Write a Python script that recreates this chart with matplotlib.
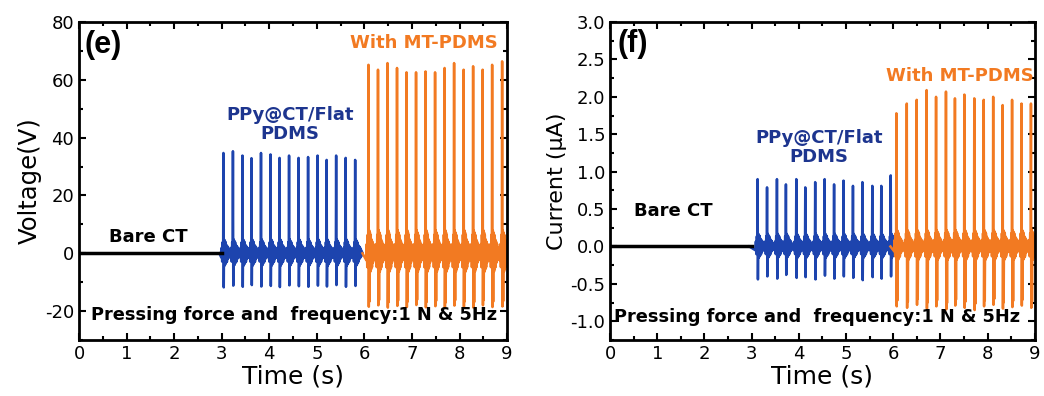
import matplotlib
matplotlib.use("Agg")
import matplotlib.pyplot as plt
from matplotlib.ticker import MultipleLocator

plt.rcParams["axes.unicode_minus"] = False

## tiempos (s), picos y valles de cada pulso, leidos de la figura
## panel (e) voltaje
t_blue_e = [3.03, 3.23, 3.43, 3.62, 3.82, 4.02, 4.21, 4.41, 4.61, 4.81, 5.01, 5.20, 5.40, 5.60, 5.80]
peak_blue_e = [34.7, 35.3, 33.8, 32.9, 34.7, 34.2, 33.0, 33.8, 33.0, 33.3, 33.8, 32.3, 33.8, 33.0, 32.3]
low_blue_e = [-11.8, -11.2, -11.6, -11.0, -11.5, -11.3, -11.7, -11.1, -11.4, -11.6, -11.2, -11.5, -11.0, -11.6, -11.3]
t_orange_e = [6.08, 6.28, 6.48, 6.68, 6.88, 7.08, 7.28, 7.48, 7.68, 7.88, 8.08, 8.28, 8.48, 8.68, 8.89]
peak_orange_e = [65.2, 63.5, 65.8, 64.1, 62.6, 62.6, 62.9, 62.6, 64.1, 65.8, 63.5, 64.7, 63.5, 65.2, 66.4]
low_orange_e = [-18.5, -18.0, -18.8, -18.2, -18.6, -17.9, -18.7, -18.3, -18.9, -18.1, -18.5, -18.8, -18.0, -18.6, -18.4]
ring_blue_e = 4.8
ring_orange_e = 8.0

## panel (f) corriente
t_blue_f = [3.12, 3.32, 3.53, 3.72, 3.94, 4.13, 4.34, 4.54, 4.74, 4.94, 5.14, 5.34, 5.55, 5.74, 5.94]
peak_blue_f = [0.90, 0.79, 0.90, 0.83, 0.90, 0.79, 0.86, 0.90, 0.83, 0.88, 0.81, 0.86, 0.81, 0.81, 0.95]
low_blue_f = [-0.44, -0.40, -0.43, -0.38, -0.42, -0.41, -0.44, -0.39, -0.43, -0.40, -0.42, -0.45, -0.41, -0.43, -0.40]
t_orange_f = [6.06, 6.28, 6.49, 6.70, 6.90, 7.11, 7.30, 7.50, 7.71, 7.91, 8.11, 8.31, 8.51, 8.71, 8.91]
peak_orange_f = [1.78, 1.91, 1.96, 2.09, 2.00, 2.07, 1.98, 2.03, 1.98, 1.96, 2.00, 1.89, 1.96, 1.91, 1.91]
low_orange_f = [-0.80, -0.82, -0.78, -0.83, -0.80, -0.84, -0.79, -0.82, -0.85, -0.80, -0.78, -0.83, -0.81, -0.79, -0.82]
ring_blue_f = 0.17
ring_orange_f = 0.22

bare_t = [0.0, 3.0]
bare_v = [0.0, 0.0]

blue = "#1d44ae"
orange = "#f27a22"

## forma de un pulso: desplazamiento (s) y factor de oscilacion
pulse_dt = [-0.04, -0.03, -0.02, -0.01, 0.0, 0.006, 0.013, 0.02, 0.028, 0.036, 0.044, 0.052,
            0.06, 0.07, 0.08, 0.09, 0.1, 0.11, 0.12, 0.13, 0.14, 0.15]
pulse_ring = [-0.3, 0.4, -0.6, 0.8, 0, None, None, 1.0, None, 0.9, -0.8, 0.8,
              -0.7, 0.6, -0.6, 0.5, -0.4, 0.4, -0.3, 0.25, -0.2, 0.1]


def trace(times, peaks, lows, ring, double):
    t, v = [], []
    for ti, p, lo in zip(times, peaks, lows):
        special = [p, lo, 0.9 * lo if double else -0.9 * ring]
        k = 0
        for d, f in zip(pulse_dt, pulse_ring):
            if f is None:
                val = special[k]
                k += 1
            else:
                val = f * ring
            t.append(ti + d)
            v.append(val)
    return t, v


fig = plt.figure(figsize=(10.44, 3.96), dpi=100)
ax1 = fig.add_axes([0.0757, 0.1414, 0.41, 0.803])
ax2 = fig.add_axes([0.5843, 0.1414, 0.407, 0.803])

for ax, data, ylim in [
    (ax1, (t_blue_e, peak_blue_e, low_blue_e, ring_blue_e, t_orange_e, peak_orange_e, low_orange_e, ring_orange_e), (-30, 80)),
    (ax2, (t_blue_f, peak_blue_f, low_blue_f, ring_blue_f, t_orange_f, peak_orange_f, low_orange_f, ring_orange_f), (-1.25, 3.0)),
]:
    tb, pb, lb, rb, to, po, lo, ro = data
    ax.plot(bare_t, bare_v, color="black", lw=2.5, zorder=3)
    x, y = trace(tb, pb, lb, rb, False)
    ax.plot([bare_t[-1] - 0.05] + x + [to[0] - 0.12], [0] + y + [0], color=blue, lw=1.8)
    x, y = trace(to, po, lo, ro, True)
    ax.plot([to[0] - 0.12] + x, [0] + y, color=orange, lw=1.8)
    ax.set_xlim(0, 9)
    ax.set_ylim(*ylim)
    ax.xaxis.set_major_locator(MultipleLocator(1))
    ax.xaxis.set_minor_locator(MultipleLocator(0.5))
    ax.tick_params(which="both", direction="in", top=True, right=True, labelsize=13, width=1.5)
    ax.tick_params(which="major", length=5)
    ax.tick_params(which="minor", length=3)
    for s in ax.spines.values():
        s.set_linewidth(2)
    ax.set_xlabel("Time (s)", fontsize=18, labelpad=1)

## panel (e)
ax1.yaxis.set_major_locator(MultipleLocator(20))
ax1.yaxis.set_minor_locator(MultipleLocator(10))
ax1.set_yticks([-20, 0, 20, 40, 60, 80])
ax1.set_ylim(-30, 80)
ax1.set_ylabel("Voltage(V)", fontsize=17.5, labelpad=2)
ax1.text(0.12, 72, "(e)", fontsize=22, fontweight="bold", family="Liberation Sans", va="center")
ax1.text(1.45, 5.5, "Bare CT", fontsize=13, fontweight="bold", ha="center", va="center")
ax1.text(4.44, 44.5, "PPy@CT/Flat\nPDMS", fontsize=13, fontweight="bold", color="#1d358f",
         ha="center", va="center", linespacing=1.05)
ax1.text(7.25, 72.7, "With MT-PDMS", fontsize=13, fontweight="bold", color=orange, ha="center", va="center")
ax1.text(4.52, -21.3, "Pressing force and  frequency:1 N & 5Hz", fontsize=12.8, fontweight="bold",
         ha="center", va="center")

## panel (f)
ax2.yaxis.set_major_locator(MultipleLocator(0.5))
ax2.yaxis.set_minor_locator(MultipleLocator(0.25))
ax2.set_ylim(-1.25, 3.0)
ax2.yaxis.set_major_formatter(plt.FormatStrFormatter("%.1f"))
ax2.set_ylabel("Current (\u03bcA)", fontsize=16, labelpad=2)
ax2.text(0.15, 2.7, "(f)", fontsize=22, fontweight="bold", family="Liberation Sans", va="center")
ax2.text(1.34, 0.48, "Bare CT", fontsize=13, fontweight="bold", ha="center", va="center")
ax2.text(4.43, 1.32, "PPy@CT/Flat\nPDMS", fontsize=13, fontweight="bold", color="#1d358f",
         ha="center", va="center", linespacing=1.05)
ax2.text(7.42, 2.28, "With MT-PDMS", fontsize=13, fontweight="bold", color=orange, ha="center", va="center")
ax2.text(4.38, -0.94, "Pressing force and  frequency:1 N & 5Hz", fontsize=12.8, fontweight="bold",
         ha="center", va="center")

fig.savefig("out.png", dpi=100)
